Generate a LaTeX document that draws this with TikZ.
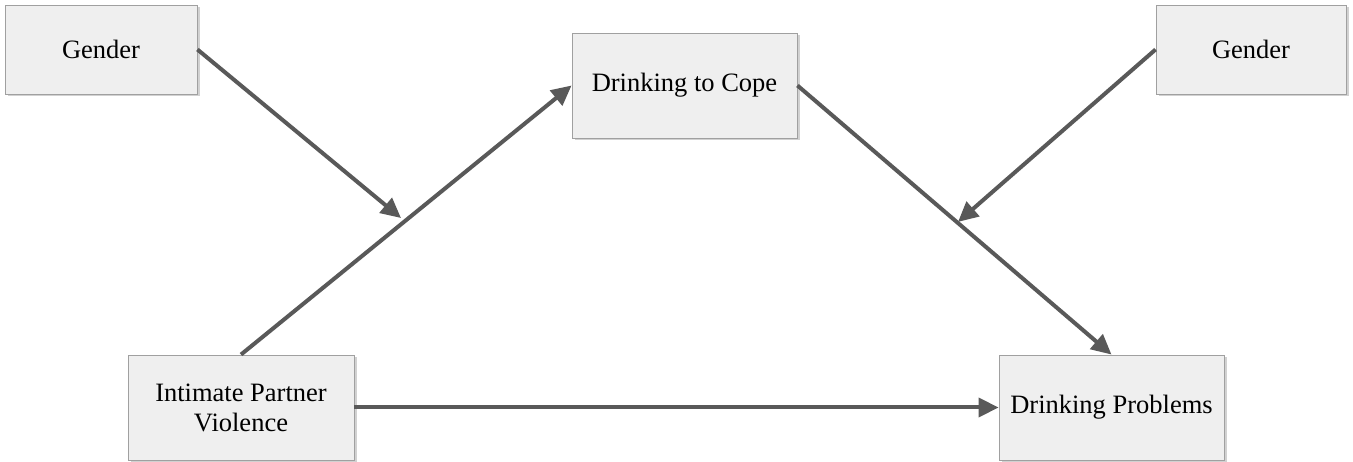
\documentclass[tikz,border=0pt]{standalone}
\usepackage{fontspec}
\setmainfont{Liberation Serif}
\usetikzlibrary{arrows.meta,shadows}
\definecolor{boxfill}{HTML}{EFEFEF}
\definecolor{boxline}{HTML}{A0A0A0}
\definecolor{arrowc}{HTML}{595959}
\begin{document}
\begin{tikzpicture}[x=1pt,y=-1pt,
  box/.style={draw=boxline, line width=0.9pt, fill=boxfill, inner sep=0pt,
    align=center, font=\fontsize{26.5}{30}\selectfont,
    drop shadow={shadow xshift=2.5pt, shadow yshift=-2.5pt, fill=black!30, opacity=0.6}},
  conn/.style={draw=arrowc, line width=4pt, -{Triangle[length=20pt,width=19pt]}}]
\useasboundingbox (0,0) rectangle (1353,462);
\node[box, minimum width=192pt, minimum height=89pt] (gL) at (101,49.5) {Gender};
\node[box, minimum width=225pt, minimum height=105pt] (dtc) at (684.5,85.5) {Drinking to Cope};
\node[box, minimum width=190pt, minimum height=89pt] (gR) at (1251,49.5) {Gender};
\node[box, minimum width=226pt, minimum height=105pt] (ipv) at (241,407.5) {Intimate Partner\\Violence};
\node[box, minimum width=225pt, minimum height=105pt] (dp) at (1111.5,407.5) {Drinking Problems};
\coordinate (mL) at (401,218);
\coordinate (mR) at (958,222);
\draw[conn] (ipv.north) -- (dtc.west);
\draw[conn] (dtc.east) -- (dp.north);
\draw[conn] (ipv.east) -- (dp.west);
\draw[conn] (gL.east) -- (mL);
\draw[conn] (gR.west) -- (mR);
\end{tikzpicture}
\end{document}
